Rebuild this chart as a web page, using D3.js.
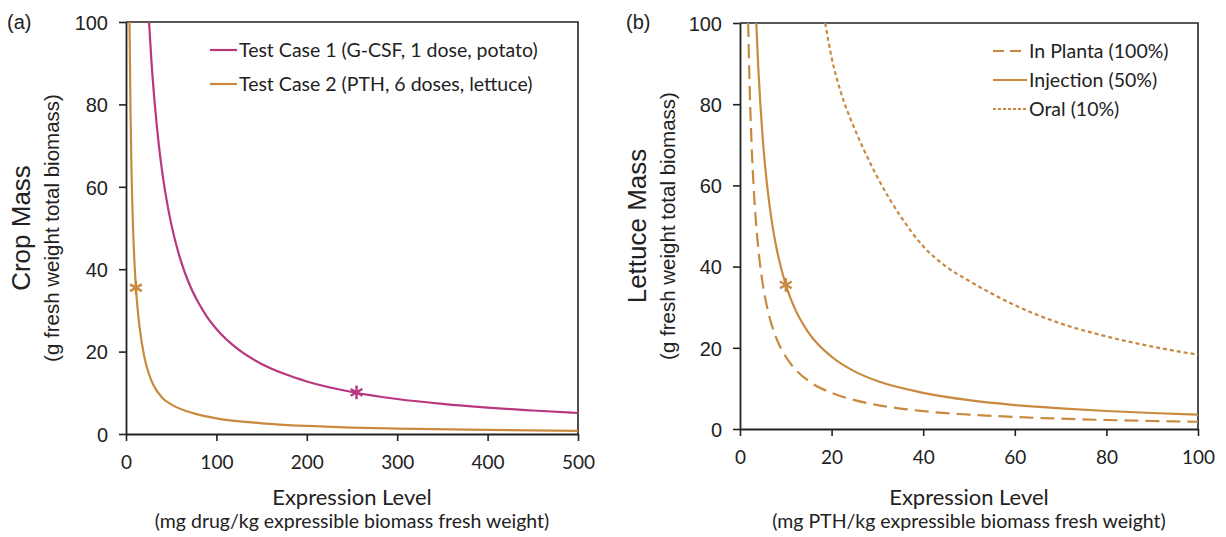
<!DOCTYPE html>
<html><head><meta charset="utf-8">
<script src="https://cdn.jsdelivr.net/npm/d3@7"></script>
<style>body{margin:0;background:#fff}svg{display:block}</style>
</head><body>
<svg id="c" width="1226" height="537"></svg>
<script>
// ---- Data ----
const tc1X = [25.5, 28, 32, 36, 40, 45, 50, 60, 70, 80, 90, 100, 125, 150, 175, 200, 250, 300, 350, 400, 450, 500];
const tc1Y = [100, 91, 79.7, 70.8, 63.7, 56.7, 51, 42.5, 36.4, 31.9, 28.3, 25.5, 20.4, 17, 14.6, 12.75, 10.2, 8.5, 7.3, 6.4, 5.7, 5.1];
const tc2X = [3.9, 5, 6, 8, 10, 12, 15, 20, 25, 30, 40, 50, 75, 100, 150, 200, 250, 300, 400, 500];
const tc2Y = [100, 78, 65, 48.8, 39, 32.5, 26, 19, 14.8, 12, 8.8, 7.2, 5, 3.8, 2.6, 1.95, 1.56, 1.3, 0.98, 0.78];
const tc1Marker = [255, 10.1];
const tc2Marker = [11, 35.5];

const plantaX = [1.78, 2, 2.5, 3, 4, 5, 6, 8, 10, 12, 15, 20, 25, 30, 40, 50, 60, 70, 80, 90, 100];
const plantaY = [100, 88.8, 71, 59.2, 44.4, 35.5, 29.6, 22.2, 17.8, 14.8, 11.8, 8.9, 7.1, 5.9, 4.4, 3.55, 2.96, 2.54, 2.22, 1.97, 1.78];
const injectX = [3.55, 4, 5, 6, 7, 8, 10, 12, 15, 20, 25, 30, 40, 50, 60, 70, 80, 90, 100];
const injectY = [100, 88.8, 71, 59.2, 50.7, 44.4, 35.5, 29.6, 23.7, 17.8, 14.2, 11.8, 8.9, 7.1, 5.9, 5.07, 4.44, 3.94, 3.55];
const oralX = [18.6, 20, 22, 25, 28, 30, 35, 40, 45, 50, 60, 70, 80, 90, 100];
const oralY = [100, 91.5, 83, 74, 66.5, 62, 52.5, 45, 40, 36.5, 30.5, 26, 22.8, 20.3, 18.3];
const injectMarker = [10, 35.5];

const xTicksA = [0, 100, 200, 300, 400, 500];
const xTicksB = [0, 20, 40, 60, 80, 100];
const yTicks = [0, 20, 40, 60, 80, 100];

const MAG = "#B8377F", ORA = "#C98A3F";
const ARIAL = "'Liberation Sans', Arial, sans-serif";
const CAL = "Lato, 'Open Sans', sans-serif";

const svg = d3.select("#c");

function panel(o) {
  const x = d3.scaleLinear().domain(o.xDomain).range([o.x0, o.x1]);
  const y = d3.scaleLinear().domain([0, 100]).range([o.y1, o.y0]);
  const g = svg.append("g");
  g.append("path").attr("d", `M${o.x0},${o.y0}H${o.x1}V${o.y1}`).attr("fill","none").attr("stroke","#222").attr("stroke-width",1.6);
  const ya = g.append("g").attr("transform",`translate(${o.x0},0)`)
    .call(d3.axisLeft(y).tickValues(yTicks).tickSize(7).tickSizeOuter(0));
  ya.select(".domain").attr("stroke","#222").attr("stroke-width",1.8);
  ya.selectAll(".tick line").attr("stroke","#222").attr("stroke-width",1.6);
  ya.selectAll("text").attr("font-family",ARIAL).attr("font-size",20).attr("fill","#222").attr("x",-18).attr("dy","0.36em");
  const xa = g.append("g").attr("transform",`translate(0,${o.y1})`)
    .call(d3.axisBottom(x).tickValues(o.xTicks).tickSize(7).tickSizeOuter(0));
  xa.select(".domain").attr("stroke","#222").attr("stroke-width",1.8);
  xa.selectAll(".tick line").attr("stroke","#222").attr("stroke-width",1.6);
  xa.selectAll("text").attr("font-family",CAL).attr("font-size",19).attr("fill","#222").attr("y",22).attr("dy","0.71em");
  const clipId = "clip" + o.id;
  svg.append("clipPath").attr("id",clipId).append("rect").attr("x",o.x0).attr("y",o.y0-1).attr("width",o.x1-o.x0).attr("height",o.y1-o.y0+1);
  const line = d3.line().x(d=>x(d[0])).y(d=>y(d[1])).curve(d3.curveMonotoneX);
  o.series.forEach(s => {
    const pts = s.xs.map((v,i)=>[v,s.ys[i]]);
    g.append("path").attr("d", line(pts)).attr("fill","none").attr("stroke",s.color)
      .attr("stroke-width",2.2).attr("stroke-dasharray", s.dash || null).attr("clip-path",`url(#${clipId})`);
  });
  o.markers.forEach(m => {
    g.append("path").attr("d", d3.symbol(d3.symbolAsterisk, 130)())
      .attr("transform",`translate(${x(m.p[0])},${y(m.p[1])})`)
      .attr("fill","none").attr("stroke",m.color).attr("stroke-width",2.4);
  });
  o.legend.forEach((l,i) => {
    const ly = o.legY + i*o.legDy;
    g.append("line").attr("x1",o.legX).attr("x2",o.legX+o.legLen).attr("y1",ly).attr("y2",ly)
      .attr("stroke",l.color).attr("stroke-width",2.2).attr("stroke-dasharray",l.dash||null);
    g.append("text").attr("x",o.legX+o.legLen+2).attr("y",ly).attr("dy","0.35em")
      .attr("font-family",CAL).attr("font-size",o.legFs).attr("fill","#222").text(l.label);
  });
  const cy = (o.y0+o.y1)/2;
  g.append("text").attr("transform",`translate(${o.yl1},${cy}) rotate(-90)`).attr("text-anchor","middle")
    .attr("font-family",ARIAL).attr("font-size",26).attr("fill","#222").text(o.yLabel);
  g.append("text").attr("transform",`translate(${o.yl2},${cy}) rotate(-90)`).attr("text-anchor","middle")
    .attr("font-family",ARIAL).attr("font-size",20.5).attr("fill","#222").text("(g fresh weight total biomass)");
  const cx = (o.x0+o.x1)/2;
  g.append("text").attr("x",cx).attr("y",505).attr("text-anchor","middle")
    .attr("font-family",CAL).attr("font-size",22).attr("fill","#222").text("Expression Level");
  g.append("text").attr("x",cx).attr("y",528).attr("text-anchor","middle")
    .attr("font-family",CAL).attr("font-size",19.5).attr("fill","#222").text(o.xSub);
  g.append("text").attr("x",o.tagX).attr("y",29).attr("font-family",ARIAL).attr("font-size",20).attr("fill","#222").text(o.tag);
}

panel({
  id:"a", x0:126, x1:578, y0:22, y1:434, xDomain:[0,500], xTicks:xTicksA,
  series:[{xs:tc1X, ys:tc1Y, color:MAG},{xs:tc2X, ys:tc2Y, color:ORA}],
  markers:[{p:tc1Marker,color:MAG},{p:tc2Marker,color:ORA}],
  legend:[{label:"Test Case 1 (G-CSF, 1 dose, potato)",color:MAG},{label:"Test Case 2 (PTH, 6 doses, lettuce)",color:ORA}],
  legX:210, legLen:27, legY:50, legDy:34, legFs:19.5,
  yLabel:"Crop Mass", yl1:30, yl2:59, xSub:"(mg drug/kg expressible biomass fresh weight)", tag:"(a)", tagX:7
});
panel({
  id:"b", x0:740, x1:1198, y0:23, y1:429, xDomain:[0,100], xTicks:xTicksB,
  series:[{xs:plantaX, ys:plantaY, color:ORA, dash:"14,7"},{xs:injectX, ys:injectY, color:ORA},{xs:oralX, ys:oralY, color:ORA, dash:"4,3"}],
  markers:[{p:injectMarker,color:ORA}],
  legend:[{label:"In Planta (100%)",color:ORA,dash:"11,6"},{label:"Injection (50%)",color:ORA},{label:"Oral (10%)",color:ORA,dash:"3,2"}],
  legX:993, legLen:34, legY:51, legDy:29, legFs:19.5,
  yLabel:"Lettuce Mass", yl1:646, yl2:675, xSub:"(mg PTH/kg expressible biomass fresh weight)", tag:"(b)", tagX:626
});
</script>
</body></html>
